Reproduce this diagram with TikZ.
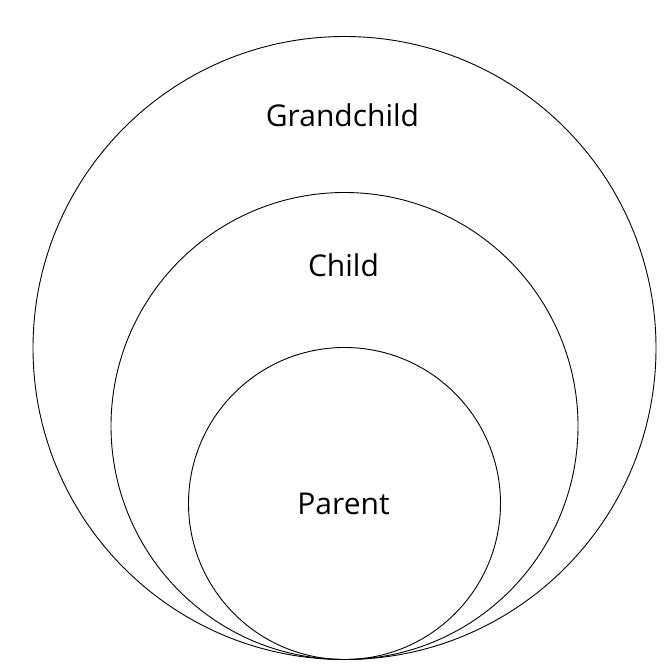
\documentclass[tikz,border=0pt]{standalone}
\usepackage{fontspec}
\setmainfont{Open Sans}
\begin{document}
\begin{tikzpicture}[x=1pt,y=-1pt,
  ring/.style={draw=black,line width=0.9pt},
  lbl/.style={anchor=base,font=\fontsize{30}{35}\selectfont,inner sep=0pt}]
\useasboundingbox (0,0) rectangle (671,669);
\fill[white] (0,0) rectangle (671,669);
\node[ring,circle,minimum size=623pt,inner sep=0pt] (outer) at (344.5,348) {};
\node[ring,circle,minimum size=467pt,inner sep=0pt] (middle) at (344.5,426) {};
\node[ring,circle,minimum size=312pt,inner sep=0pt] (inner) at (344.5,503.5) {};
\node[lbl] (g) at (342.5,126) {Grandchild};
\node[lbl] (c) at (343.5,276) {Child};
\node[lbl] (p) at (343.5,514) {Parent};
\end{tikzpicture}
\end{document}
